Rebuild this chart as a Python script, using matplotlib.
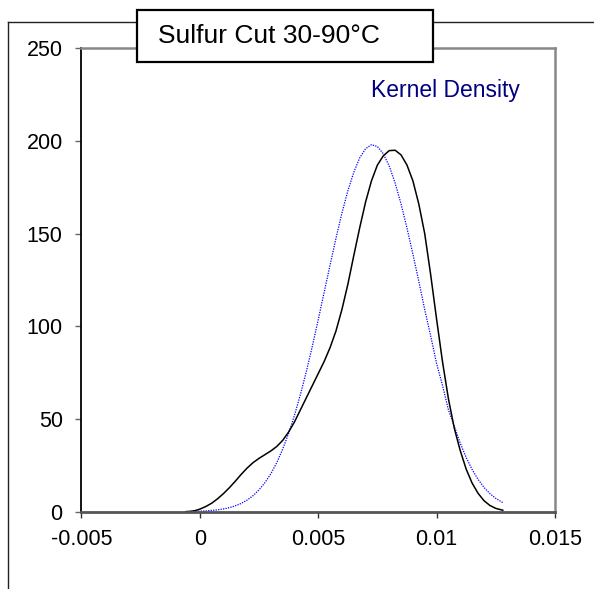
import matplotlib
matplotlib.use("Agg")
import matplotlib.pyplot as plt
from matplotlib.patches import Rectangle
from matplotlib.lines import Line2D

# data
x_black = [-0.0006, -0.0004, -0.0002, 0.0, 0.00025, 0.0005, 0.00075, 0.001, 0.00125, 0.0015, 0.00175,
           0.002, 0.00225, 0.0025, 0.00275, 0.003, 0.00325, 0.0035, 0.00375, 0.004, 0.00425, 0.0045,
           0.00475, 0.005, 0.00525, 0.0055, 0.00575, 0.006, 0.00625, 0.0065, 0.00675, 0.007, 0.00725,
           0.0075, 0.00775, 0.008, 0.00825, 0.0085, 0.00875, 0.009, 0.00925, 0.0095, 0.00975, 0.01,
           0.01025, 0.0105, 0.01075, 0.011, 0.01125, 0.0115, 0.01175, 0.012, 0.01225, 0.0125, 0.0128]
y_black = [0, 0.2, 0.6, 1.4, 2.8, 4.6, 7, 9.8, 13, 16.5, 20.2,
           23.6, 26.5, 28.8, 30.8, 32.8, 35.2, 38.5, 43, 48.5, 55, 61.5,
           68, 74.5, 81, 88.5, 97.5, 109, 122.5, 138, 153, 167, 178.5,
           187, 192, 194.8, 195, 192.5, 187, 178.5, 166, 150, 128, 104,
           81, 61, 45, 33, 23, 15.5, 10, 6, 3.4, 1.8, 0.8]
x_blue = [-0.0006, 0.0, 0.00025, 0.0005, 0.00075, 0.001, 0.00125, 0.0015, 0.00175, 0.002, 0.00225,
          0.0025, 0.00275, 0.003, 0.00325, 0.0035, 0.00375, 0.004, 0.00425, 0.0045, 0.00475, 0.005,
          0.00525, 0.0055, 0.00575, 0.006, 0.00625, 0.0065, 0.00675, 0.007, 0.00725, 0.0075, 0.00775,
          0.008, 0.00825, 0.0085, 0.00875, 0.009, 0.00925, 0.0095, 0.00975, 0.01, 0.01025, 0.0105,
          0.01075, 0.011, 0.01125, 0.0115, 0.01175, 0.012, 0.01225, 0.0125, 0.0128]
y_blue = [0.1, 0.3, 0.45, 0.7, 1.0, 1.5, 2.2, 3.2, 4.5, 6.3, 8.7,
          11.8, 15.7, 20.5, 26.5, 33.8, 42.3, 52.1, 63.3, 75.7, 89.2, 103.5,
          118.3, 133, 147.5, 161, 173, 183, 190.8, 195.8, 198, 197, 193.1,
          186.5, 177.3, 166, 153, 139, 124.3, 109, 94.9, 80, 68.2, 55,
          46.1, 37, 29.3, 22.8, 17.5, 13.2, 9.8, 7.2, 4.9]
x_ticks = [-0.005, 0, 0.005, 0.01, 0.015]
x_labels = ["-0.005", "0", "0.005", "0.01", "0.015"]
y_ticks = [0, 50, 100, 150, 200, 250]
title = "Sulfur Cut 30-90°C"
legend_text = "Kernel Density"

plt.rcParams['font.family'] = ['Liberation Sans', 'DejaVu Sans']
fig = plt.figure(figsize=(5.94, 5.89), dpi=100)

# outer frame, cut off at right and bottom
fig.add_artist(Line2D([0.0135, 0.0135], [0, 0.9626], color='#222222', lw=1.0))
fig.add_artist(Line2D([0.0135, 0.2306], [0.9626, 0.9626], color='#222222', lw=1.0))
fig.add_artist(Line2D([0.729, 1.0], [0.9626, 0.9626], color='#222222', lw=1.0))

ax = fig.add_axes([0.1372, 0.1312, 0.797, 0.7868])
ax.plot(x_blue, y_blue, color='#0000ff', lw=0.9, linestyle=(0, (1, 1)))
ax.plot(x_black, y_black, color='black', lw=1.1)
ax.set_xlim(-0.005, 0.015)
ax.set_ylim(0, 250)
ax.set_xticks(x_ticks)
ax.set_xticklabels(x_labels)
ax.set_yticks(y_ticks)
ax.tick_params(axis='x', direction='out', length=4.5, width=1.0, pad=8, labelsize=15.5, color='#333333')
ax.tick_params(axis='y', direction='out', length=4.5, width=1.0, pad=9, labelsize=15.5, color='#666666')
ax.spines['left'].set_color('black')
ax.spines['left'].set_linewidth(1.3)
ax.spines['bottom'].set_color('#555555')
ax.spines['bottom'].set_linewidth(2.0)
ax.spines['top'].set_color('#888888')
ax.spines['top'].set_linewidth(1.8)
ax.spines['right'].set_color('#888888')
ax.spines['right'].set_linewidth(1.8)

ax.text(0.926, 0.91, legend_text, transform=ax.transAxes, ha='right', va='center',
        fontsize=16.5, color='#000080')

# title box
fig.add_artist(Rectangle((0.2306, 0.8947), 0.4983, 0.0883, transform=fig.transFigure,
                         facecolor='white', edgecolor='black', lw=1.6, zorder=5))
fig.text(0.266, 0.939, title, ha='left', va='center', fontsize=19, zorder=6)

fig.savefig("out.png", dpi=100)
